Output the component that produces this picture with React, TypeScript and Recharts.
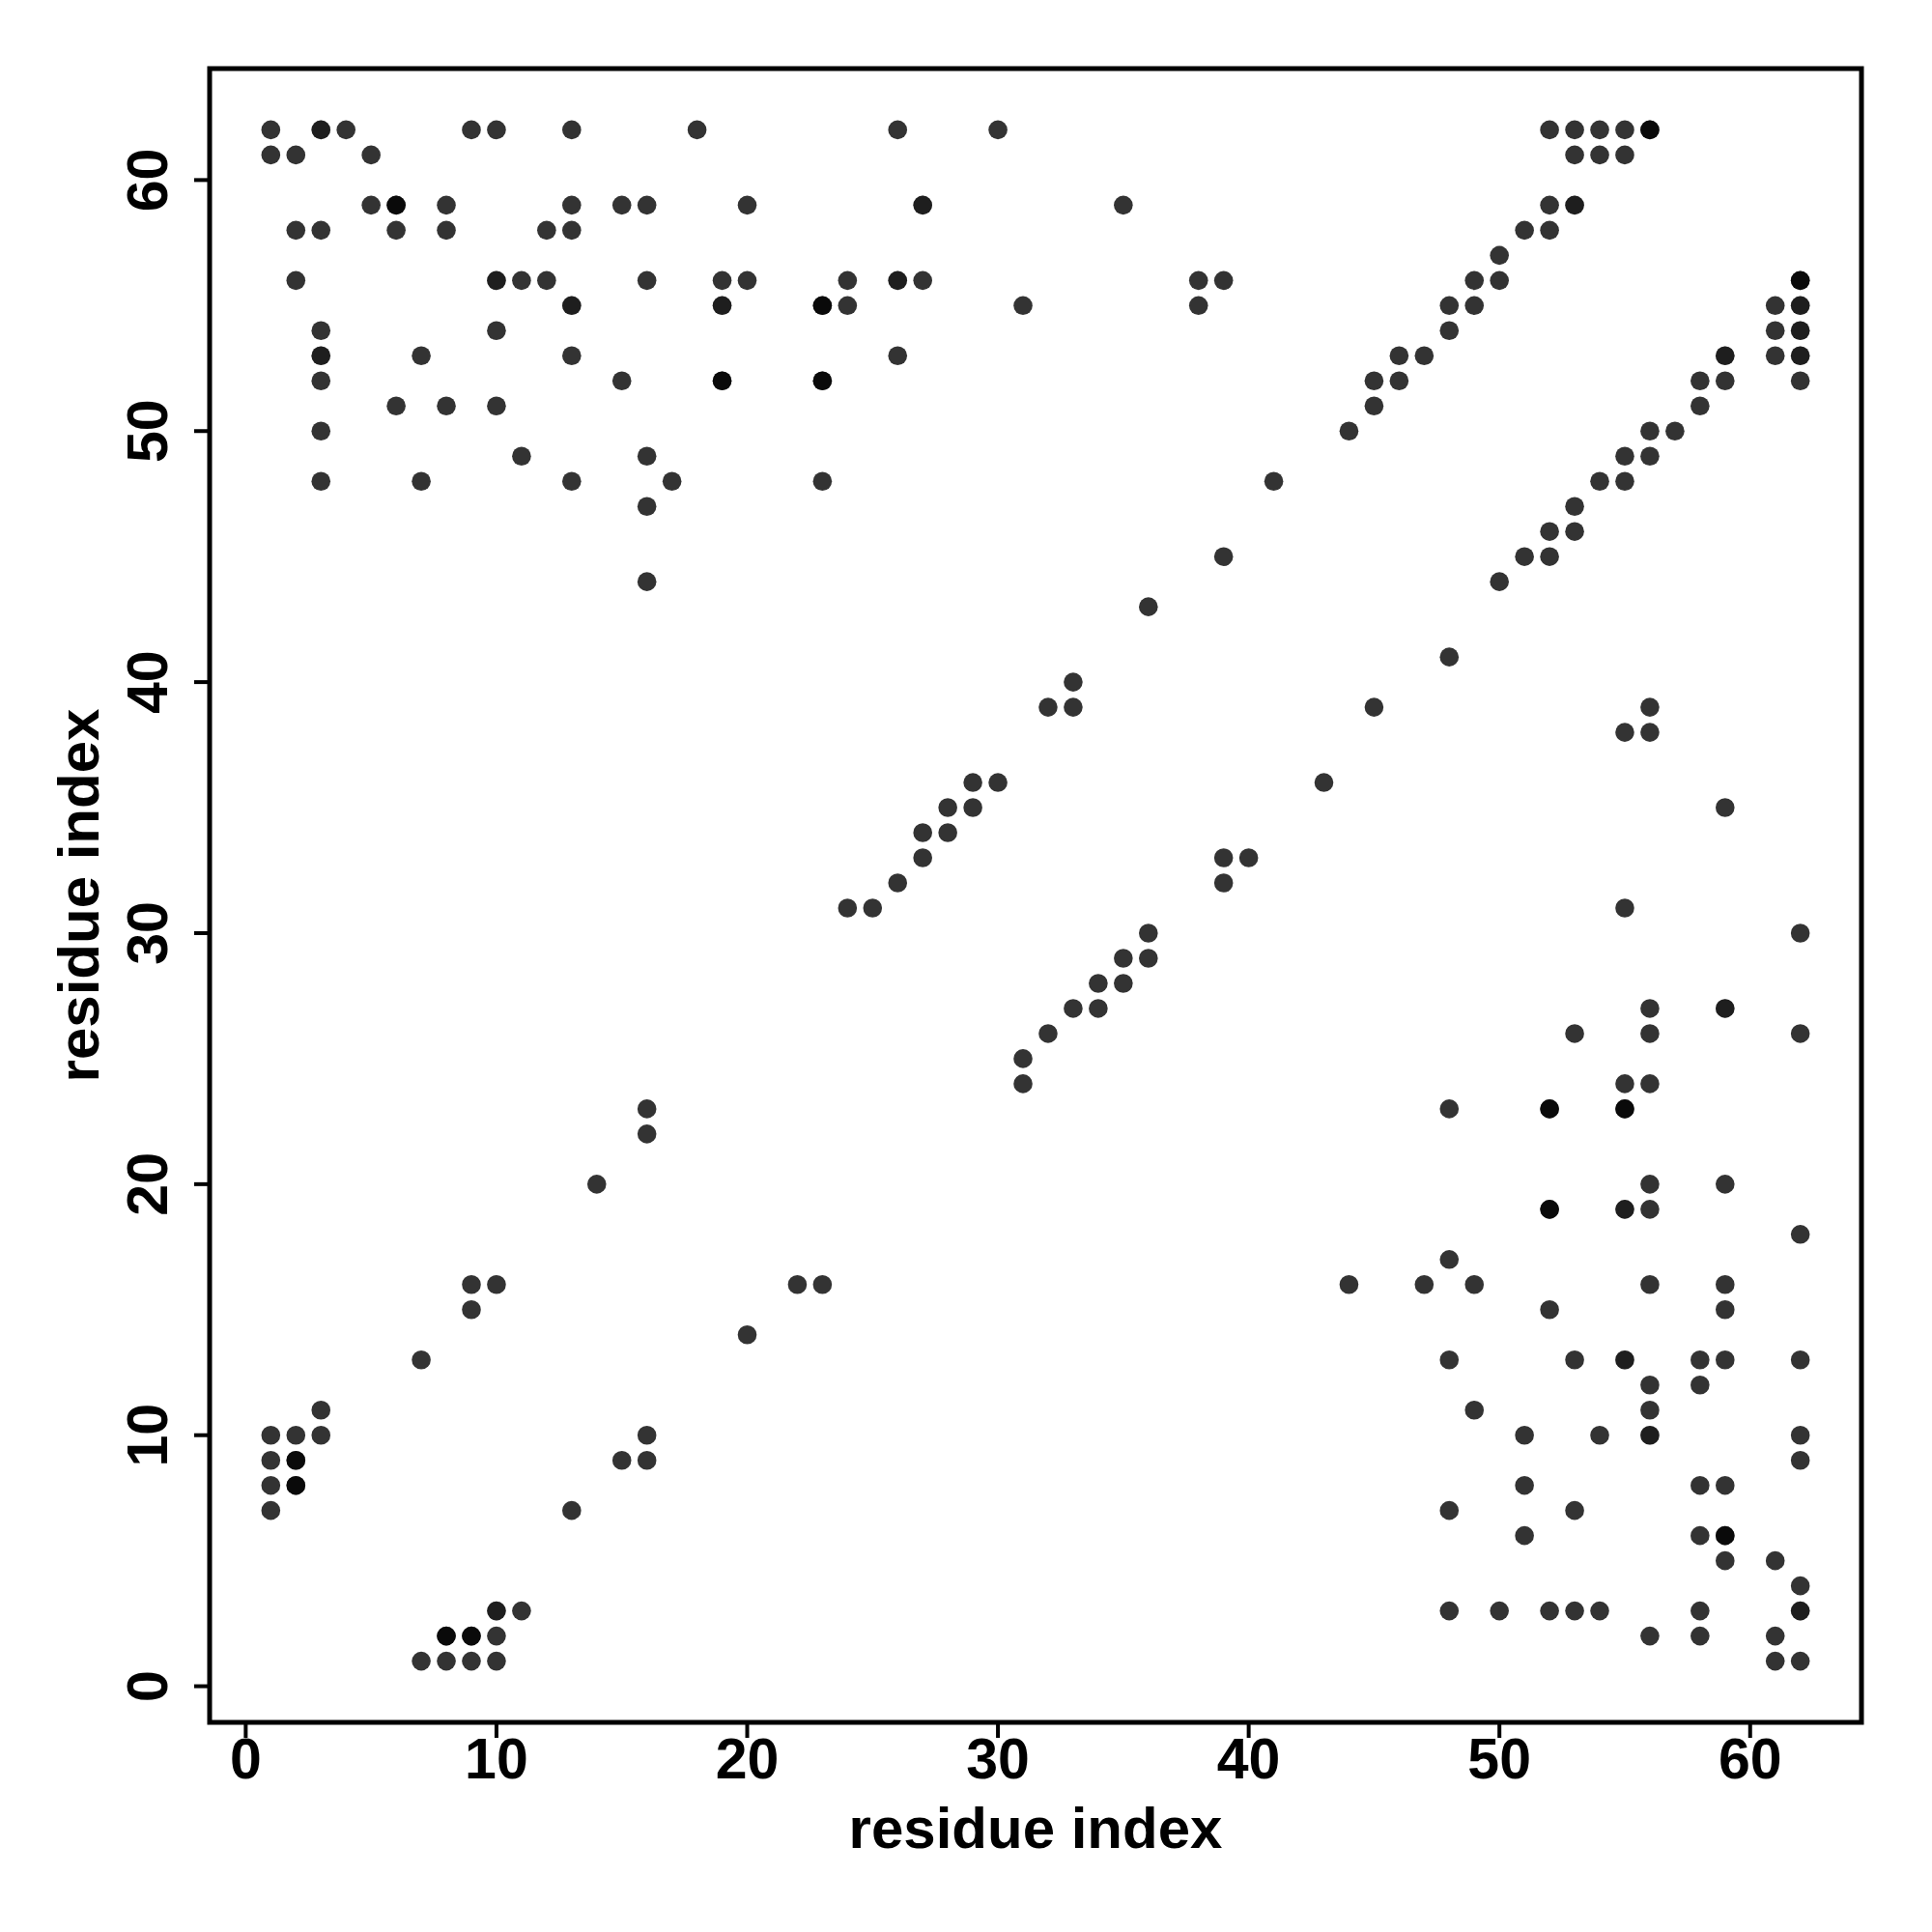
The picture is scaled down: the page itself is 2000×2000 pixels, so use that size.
import React from 'react';
import { ScatterChart, Scatter, XAxis, YAxis, ReferenceArea, Label } from 'recharts';

// contact pairs [residue i, residue j]
const contacts: [number, number][] = [
  [1, 62], [3, 62], [4, 62], [9, 62], [10, 62], [13, 62], [18, 62], [26, 62], [30, 62], [52, 62], [53, 62], [54, 62], [55, 62], [56, 62],
  [1, 61], [2, 61], [5, 61], [53, 61], [54, 61], [55, 61],
  [5, 59], [6, 59], [8, 59], [13, 59], [15, 59], [16, 59], [20, 59], [27, 59], [35, 59], [52, 59], [53, 59],
  [2, 58], [3, 58], [6, 58], [8, 58], [12, 58], [13, 58], [51, 58], [52, 58],
  [50, 57],
  [2, 56], [10, 56], [11, 56], [12, 56], [16, 56], [19, 56], [20, 56], [24, 56], [26, 56], [27, 56], [38, 56], [39, 56], [49, 56], [50, 56], [62, 56],
  [13, 55], [19, 55], [23, 55], [24, 55], [31, 55], [38, 55], [48, 55], [49, 55], [61, 55], [62, 55],
  [3, 54], [10, 54], [48, 54], [61, 54], [62, 54],
  [3, 53], [7, 53], [13, 53], [26, 53], [46, 53], [47, 53], [59, 53], [61, 53], [62, 53],
  [3, 52], [15, 52], [19, 52], [23, 52], [45, 52], [46, 52], [58, 52], [59, 52], [62, 52],
  [6, 51], [8, 51], [10, 51], [45, 51], [58, 51],
  [3, 50], [44, 50], [56, 50], [57, 50],
  [11, 49], [16, 49], [55, 49], [56, 49],
  [3, 48], [7, 48], [13, 48], [17, 48], [23, 48], [41, 48], [54, 48], [55, 48],
  [16, 47], [53, 47],
  [52, 46], [53, 46],
  [39, 45], [51, 45], [52, 45],
  [16, 44], [50, 44],
  [36, 43],
  [48, 41],
  [33, 40],
  [32, 39], [33, 39], [45, 39], [56, 39],
  [55, 38], [56, 38],
  [29, 36], [30, 36], [43, 36],
  [28, 35], [29, 35], [59, 35],
  [27, 34], [28, 34],
  [27, 33], [39, 33], [40, 33],
  [26, 32], [39, 32],
  [24, 31], [25, 31], [55, 31],
  [36, 30], [62, 30],
  [35, 29], [36, 29],
  [34, 28], [35, 28],
  [33, 27], [34, 27], [56, 27], [59, 27],
  [32, 26], [53, 26], [56, 26], [62, 26],
  [31, 25],
  [31, 24], [55, 24], [56, 24],
  [16, 23], [48, 23], [52, 23], [55, 23],
  [16, 22],
  [14, 20], [56, 20], [59, 20],
  [52, 19], [55, 19], [56, 19],
  [62, 18],
  [48, 17],
  [9, 16], [10, 16], [22, 16], [23, 16], [44, 16], [47, 16], [49, 16], [56, 16], [59, 16],
  [9, 15], [52, 15], [59, 15],
  [20, 14],
  [7, 13], [48, 13], [53, 13], [55, 13], [58, 13], [59, 13], [62, 13],
  [56, 12], [58, 12],
  [3, 11], [49, 11], [56, 11],
  [1, 10], [2, 10], [3, 10], [16, 10], [51, 10], [54, 10], [56, 10], [62, 10],
  [1, 9], [2, 9], [15, 9], [16, 9], [62, 9],
  [1, 8], [2, 8], [51, 8], [58, 8], [59, 8],
  [1, 7], [13, 7], [48, 7], [53, 7],
  [51, 6], [58, 6], [59, 6],
  [59, 5], [61, 5],
  [62, 4],
  [10, 3], [11, 3], [48, 3], [50, 3], [52, 3], [53, 3], [54, 3], [58, 3], [62, 3],
  [8, 2], [9, 2], [10, 2], [56, 2], [58, 2], [61, 2],
  [7, 1], [8, 1], [9, 1], [10, 1], [61, 1], [62, 1],
];

// contacts that were plotted twice (overplotted, appear black)
const repeatedContacts: [number, number][] = [
  [6, 59], [19, 52], [23, 55], [23, 52], [56, 62], [62, 56], [52, 23], [55, 23],
  [52, 19], [2, 8], [2, 9], [8, 2], [9, 2], [59, 6],
];

// contacts that appear slightly darker
const darkerContacts: [number, number][] = [
  [13, 55], [19, 55], [10, 56], [3, 53], [3, 62], [27, 59], [26, 56], [53, 59],
  [62, 55], [62, 54], [62, 53], [55, 19], [59, 27], [10, 3], [62, 3], [55, 13],
  [56, 10], [59, 53],
];

const axisTicks = [0, 10, 20, 30, 40, 50, 60];
const axisDomain: [number, number] = [-1.44, 64.44];
const axisTitle = 'residue index';

const toPoints = (pairs: [number, number][]) => pairs.map(([x, y]) => ({ x, y }));

const FONT = '"Liberation Sans", Arial, Helvetica, sans-serif';
const PLOT_LEFT = 217;
const PLOT_TOP = 71;
const PLOT_RIGHT = 1927;
const PLOT_BOTTOM = 1783;

const makeDot = (opacity: number) => (props: any) => {
  if (props.cx == null || props.cy == null) return <g />;
  return <circle cx={props.cx} cy={props.cy} r={9.8} fill="#000" fillOpacity={opacity} stroke="none" />;
};

const XTick = (props: any) => {
  const { x, payload } = props;
  return (
    <text x={x} y={PLOT_BOTTOM + 58} textAnchor="middle" fontFamily={FONT} fontWeight="bold" fontSize={59} fill="#000">
      {payload.value}
    </text>
  );
};

const YTick = (props: any) => {
  const { y, payload } = props;
  const bx = 173;
  return (
    <text x={bx} y={y} textAnchor="middle" transform={`rotate(-90, ${bx}, ${y})`} fontFamily={FONT} fontWeight="bold" fontSize={59} fill="#000">
      {payload.value}
    </text>
  );
};

export default function App() {
  return (
    <div style={{ position: 'absolute', left: 0, top: 0, width: 2000, height: 2000, background: '#fff' }}>
      <ScatterChart
        width={2000}
        height={2000}
        margin={{ top: PLOT_TOP, right: 2000 - PLOT_RIGHT, bottom: 0, left: 0 }}
      >
        <XAxis
          dataKey="x"
          type="number"
          domain={axisDomain}
          ticks={axisTicks}
          allowDataOverflow
          interval={0}
          height={2000 - PLOT_BOTTOM}
          axisLine={false}
          tickSize={16}
          tickMargin={0}
          tickLine={{ stroke: '#000', strokeWidth: 4 }}
          tick={<XTick />}
        >
          <Label
            content={() => (
              <text x={(PLOT_LEFT + PLOT_RIGHT) / 2} y={1913} textAnchor="middle" fontFamily={FONT} fontWeight="bold" fontSize={60} fill="#000">
                {axisTitle}
              </text>
            )}
          />
        </XAxis>
        <YAxis
          dataKey="y"
          type="number"
          domain={axisDomain}
          ticks={axisTicks}
          allowDataOverflow
          interval={0}
          width={PLOT_LEFT}
          axisLine={false}
          tickSize={16}
          tickMargin={0}
          tickLine={{ stroke: '#000', strokeWidth: 4 }}
          tick={<YTick />}
        >
          <Label
            content={() => {
              const cy = (PLOT_TOP + PLOT_BOTTOM) / 2;
              return (
                <text x={102} y={cy} textAnchor="middle" transform={`rotate(-90, 102, ${cy})`} fontFamily={FONT} fontWeight="bold" fontSize={60} fill="#000">
                  {axisTitle}
                </text>
              );
            }}
          />
        </YAxis>
        <Scatter data={toPoints(contacts)} isAnimationActive={false} shape={makeDot(0.8)} />
        <Scatter data={toPoints(darkerContacts)} isAnimationActive={false} shape={makeDot(0.4)} />
        <Scatter data={toPoints(repeatedContacts)} isAnimationActive={false} shape={makeDot(0.8)} />
        <ReferenceArea
          x1={axisDomain[0]}
          x2={axisDomain[1]}
          y1={axisDomain[0]}
          y2={axisDomain[1]}
          fill="none"
          fillOpacity={0}
          stroke="#000"
          strokeWidth={5}
          ifOverflow="visible"
        />
      </ScatterChart>
    </div>
  );
}
